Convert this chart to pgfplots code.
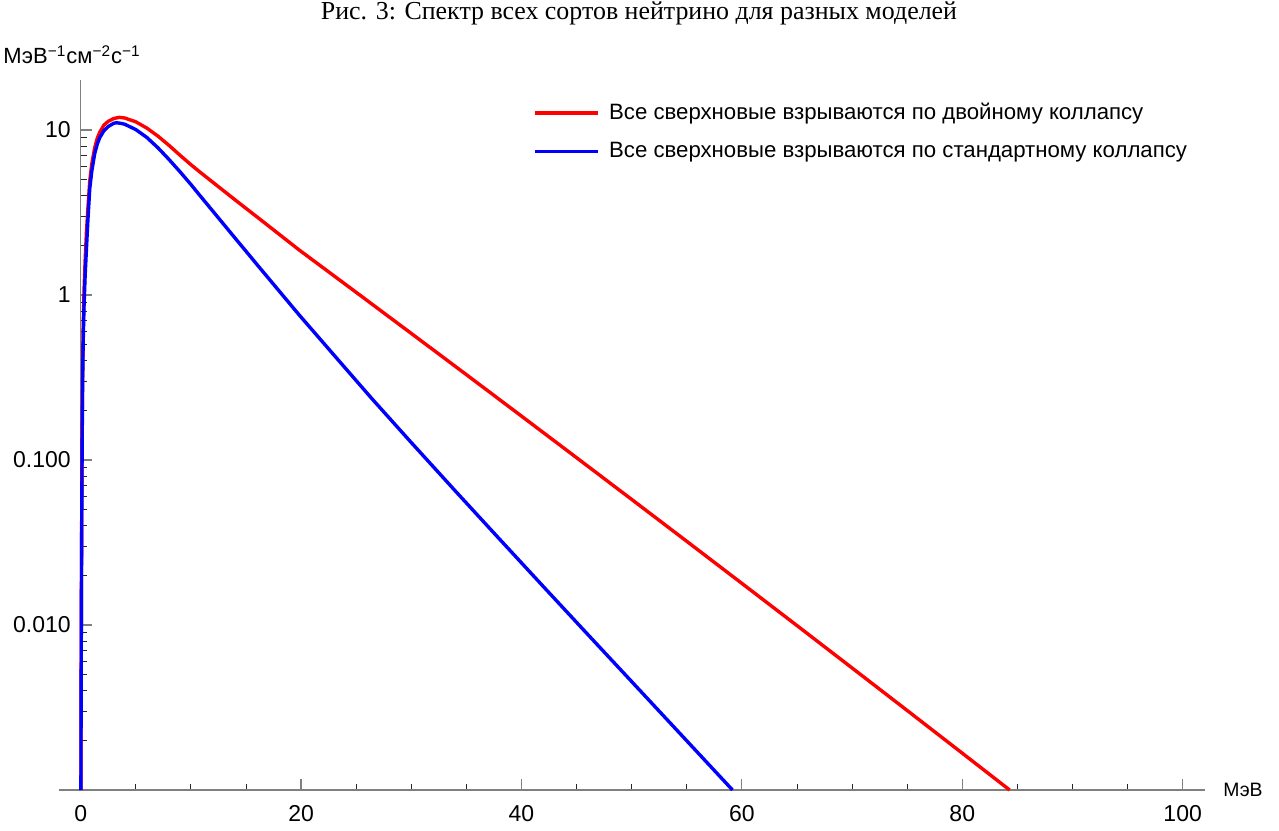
\documentclass[border=0pt]{standalone}
\usepackage{pgfplots}
\pgfplotsset{compat=1.18}
\usepackage{fontspec}
\setmainfont{Liberation Sans}
\newfontfamily\titlefont{Liberation Serif}

\pgfplotstableread{
x y
0.02 0.001
0.035 0.003
0.05 0.008
0.07 0.02
0.10 0.06
0.13 0.15
0.17 0.33
0.22 0.6
0.30 1.05
0.40 1.6
0.52 2.4
0.66 3.4
0.82 4.9
1.0 6.2
1.27 7.8
1.5 8.9
1.73 9.7
2.1 10.7
2.5 11.3
3.0 11.75
3.5 11.94
4.0 11.83
5.0 11.22
6.0 10.28
7.0 9.20
8.0 8.09
9.0 7.05
10.0 6.17
10.74 5.62
12.0 4.82
14.0 3.78
16.26 2.884
19.83 1.875
25 1.0385
30 0.5852
35 0.3292
40 0.1846
45 0.1033
50 0.05771
55 0.03216
60 0.01788
65 0.009922
70 0.005491
75 0.003034
80 0.001672
84.3 0.001
}\red

\pgfplotstableread{
x y
0.02 0.001
0.035 0.003
0.05 0.007
0.07 0.018
0.10 0.05
0.13 0.12
0.17 0.27
0.22 0.5
0.30 0.85
0.40 1.3
0.52 1.9
0.66 2.9
0.82 4.4
1.0 5.6
1.27 7.2
1.5 8.2
1.73 9.0
2.1 9.9
2.5 10.5
3.0 11.0
3.25 11.07
3.6 11.0
4.0 10.84
5.0 10.07
6.0 9.02
7.0 7.82
8.0 6.65
9.0 5.60
10.0 4.68
10.74 4.07
12.0 3.22
14.0 2.218
16.26 1.459
19.83 0.757
23 0.4315
26.37 0.2377
30 0.1276
34 0.0649
37.99 0.03327
42 0.01706
46 0.00879
50 0.00454
54 0.002344
59.15 0.001
}\blue

\begin{document}
\begin{tikzpicture}[x=1pt,y=1pt]
\path[use as bounding box] (0,0) rectangle (639.5,415);
\draw[black!50, line width=0.6pt] (29.35,20) -- (40.6,20);
\begin{axis}[
  at={(40.35pt,20pt)}, anchor=south west,
  scale only axis, width=562pt, height=354.8pt,
  xmin=0, xmax=102,
  ymode=log, ymin=0.001, ymax=20,
  clip=false,
  axis x line=bottom, axis y line=left,
  axis line style={black!50, line width=0.6pt, -},
  tick align=inside,
  major tick length=5.5pt, minor tick length=3pt,
  major tick style={black!50, line width=0.6pt},
  minor tick style={black!85, line width=0.4pt},
  xtick={0,20,40,60,80,100},
  minor xtick={5,10,15,25,30,35,45,50,55,65,70,75,85,90,95},
  ytick={0.01,0.1,1,10},
  yticklabels={0.010,0.100,1,10},
  minor ytick={0.002,0.003,0.004,0.005,0.006,0.007,0.008,0.009,
               0.02,0.03,0.04,0.05,0.06,0.07,0.08,0.09,
               0.2,0.3,0.4,0.5,0.6,0.7,0.8,0.9,
               2,3,4,5,6,7,8,9},
  /pgf/number format/assume math mode=true,
  tick label style={font=\fontsize{11.5}{13}\selectfont},
  xticklabel style={yshift=-4pt},
  yticklabel style={xshift=-1.5pt},
  legend style={at={(0.4027,0.9714)}, anchor=north west, draw=none, fill=none,
    font=\fontsize{11.1}{13}\selectfont, row sep=8pt, inner sep=0pt,
    nodes={inner sep=1pt}, column sep=3.5pt},
  legend cell align=left,
  legend image code/.code={\draw[#1] (0pt,0pt) -- (31.5pt,0pt);},
]
\addplot[red, line width=1.7pt] table[x=x,y=y] {\red};
\addlegendentry{Все сверхновые взрываются по двойному коллапсу}
\addplot[blue, line width=1.7pt] table[x=x,y=y] {\blue};
\addlegendentry{Все сверхновые взрываются по стандартному коллапсу}
\end{axis}
\node[font=\titlefont\fontsize{12.95}{15}\selectfont] at (319.5,408.5) {Рис. 3: Спектр всех сортов нейтрино для разных моделей};
\node[anchor=base west, inner sep=0pt, font=\fontsize{11}{13}\selectfont] at (1.5,383) {МэВ\textsuperscript{−1}см\textsuperscript{−2}с\textsuperscript{−1}};
\node[anchor=west, inner sep=0pt, font=\fontsize{9.7}{11}\selectfont] at (611.5,20) {МэВ};
\end{tikzpicture}
\end{document}
